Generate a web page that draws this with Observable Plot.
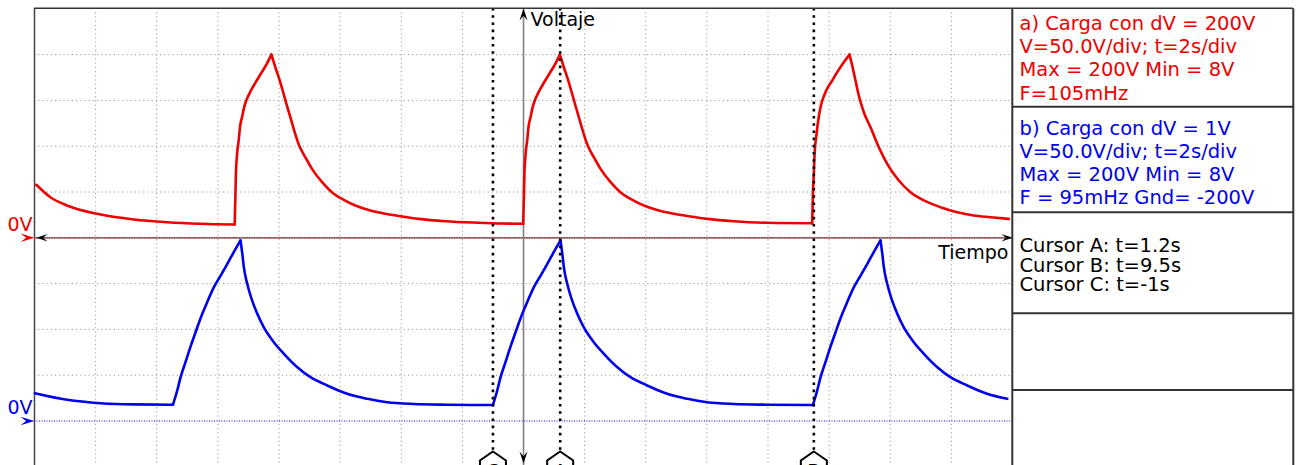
<!DOCTYPE html>
<html><head><meta charset="utf-8">
<script src="https://cdn.jsdelivr.net/npm/d3@7"></script>
<script src="https://cdn.jsdelivr.net/npm/@observablehq/plot@0.6"></script>
<style>html,body{margin:0;padding:0;background:#fff}svg{display:block}</style>
</head><body><div id="chart"></div>
<script>
// ---- data (time in s, voltage in V) ----
const redT = [-15.94,-15.48,-14.94,-13.95,-12.75,-11.66,-10.57,-9.45,
  -9.43,-9.41,-9.37,-9.32,-9.27,-9.21,-9.14,-9.07,-8.96,-8.83,-8.66,-8.56,-8.39,-8.25,
  -8.12,-8.01,-7.88,-7.74,-7.63,-7.34,-7.14,-6.92,-6.59,-6.27,-5.88,-5.50,-5.01,-4.52,-3.98,-3.43,-2.56,-1.47,-0.75,-0.01,
  0.01,0.03,0.07,0.12,0.17,0.23,0.30,0.37,0.48,0.61,0.78,0.88,1.05,1.19,
  1.32,1.43,1.56,1.70,1.81,2.10,2.30,2.52,2.85,3.17,3.56,3.94,4.43,4.92,5.46,6.01,6.88,7.97,9.446,
  9.466,9.499,9.531,9.577,9.643,9.718,9.881,10.101,10.264,10.48,10.667,
  10.755,10.863,10.971,11.135,11.354,11.626,11.90,12.28,12.663,13.154,13.645,14.191,14.734,15.28,15.879];
const redV = [57.9,44.3,35.3,26.2,20.0,17.0,15.3,14.5,
  40.7,69.9,91.7,106.2,122.6,131.7,142.6,149.9,158.0,166.0,175.5,181.0,190.5,200,
  186.2,175.3,160.8,144.4,131.7,100.8,88.0,75.3,60.7,49.8,41.5,35.3,29.8,26.2,23.3,20.7,18.1,16.4,15.6,15.3,
  40.7,69.9,91.7,106.2,122.6,131.7,142.6,149.9,158.0,166.0,175.5,181.0,190.5,200,
  186.2,175.3,160.8,144.4,131.7,100.8,88.0,75.3,60.7,49.8,41.5,35.3,29.8,26.2,23.3,20.7,18.1,16.4,15.9,
  44.3,69.9,95.3,109.8,128.1,142.6,159.0,171.7,180.8,191.7,200,
  188.1,171.7,155.3,137.1,120.7,98.9,80.8,62.6,49.8,40.0,33.4,27.9,24.3,22.5,20.7];

const blueT = [-15.99,-14.93,-13.84,-12.75,-11.47,
  -11.33,-11.22,-11.06,-10.90,-10.73,-10.51,-10.35,-10.13,-9.91,-9.69,-9.48,-9.26,
  -9.20,-9.15,-9.04,-8.88,-8.71,-8.50,-8.17,-7.84,-7.40,-6.97,-6.42,-5.77,-5.11,-4.46,-3.59,-2.50,-1.00,
  -0.86,-0.75,-0.59,-0.43,-0.26,-0.04,0.12,0.34,0.56,0.78,0.99,1.21,
  1.27,1.32,1.43,1.59,1.76,1.97,2.30,2.63,3.07,3.50,4.05,4.70,5.36,6.01,6.88,7.97,9.47,
  9.61,9.72,9.88,10.04,10.21,10.43,10.59,10.81,11.03,11.25,11.46,11.68,
  11.74,11.79,11.90,12.06,12.23,12.44,12.77,13.10,13.54,13.97,14.52,15.17,15.83];
const blueV = [30.3,23.1,19.4,18.1,17.8,
  33.3,47.8,64.2,80.6,96.9,117.0,129.7,146.1,158.8,171.6,184.3,197.1,
  182.5,167.9,149.8,131.6,117.0,102.4,86.0,73.4,58.7,47.8,38.8,29.7,24.2,20.5,18.6,17.8,17.4,
  33.3,47.8,64.2,80.6,96.9,117.0,129.7,146.1,158.8,171.6,184.3,197.1,
  182.5,167.9,149.8,131.6,117.0,102.4,86.0,73.4,58.7,47.8,38.8,29.7,24.2,20.5,18.6,17.8,17.4,
  33.3,47.8,64.2,80.6,96.9,117.0,129.7,146.1,158.8,171.6,184.3,197.1,
  182.5,167.9,149.8,131.6,117.0,102.4,86.0,73.4,58.7,47.8,38.8,29.7,24.2];
const blueGnd = -200;

const cursorNames = ["A", "B", "C"];
const cursorT = [1.2, 9.5, -1];

const gridT = [-14,-12,-10,-8,-6,-4,-2,0,2,4,6,8,10,12,14];
const gridV = [200,150,100,50,-50,-100,-150];

const legendA = ["a) Carga con dV = 200V","V=50.0V/div; t=2s/div","Max = 200V Min = 8V","F=105mHz"];
const legendB = ["b) Carga con dV = 1V","V=50.0V/div; t=2s/div","Max = 200V Min = 8V","F = 95mHz Gnd= -200V"];
const legendC = ["Cursor A: t=1.2s","Cursor B: t=9.5s","Cursor C: t=-1s"];
const yLabel = "Voltaje", xLabel = "Tiempo", zeroLabel = "0V";

// ---- build ----
const RED = "#ee0000", BLUE = "#0000ee";

// split a trace into monotone pieces (rise / decay) so corners stay sharp
function pieces(T, V, offset) {
  const out = [];
  let seg = 0, dir = 0;
  T.forEach((t, i) => {
    if (i > 0) {
      const d = Math.sign(V[i] - V[i - 1]);
      if (d !== 0 && dir !== 0 && d !== dir) {
        seg++;
        out.push({t: T[i - 1], v: V[i - 1] + offset, seg});
      }
      if (d !== 0) dir = d;
    }
    out.push({t, v: V[i] + offset, seg});
  });
  return out;
}
const red = pieces(redT, redV, 0);
const blue = pieces(blueT, blueV, blueGnd);
const cursors = cursorT.map((t, i) => ({t, name: cursorNames[i]}));

function arrow(dir, L, W) {
  const pts = [[0,0],[-L,-W],[-L*0.6,0],[-L,W]];
  const r = {right:[1,0], left:[-1,0], up:[0,-1], down:[0,1]}[dir];
  return {draw(ctx) {
    pts.forEach(([x,y], i) => {
      const px = x*r[0] - y*r[1], py = x*r[1] + y*r[0];
      i ? ctx.lineTo(px, py) : ctx.moveTo(px, py);
    });
    ctx.closePath();
  }};
}
const plate = {draw(ctx) {
  ctx.moveTo(0,-14); ctx.lineTo(13,-5); ctx.lineTo(13,14); ctx.lineTo(-13,14); ctx.lineTo(-13,-5); ctx.closePath();
}};

const chart = Plot.plot({
  width: 1299, height: 465,
  marginLeft: 34, marginRight: 287, marginTop: 8, marginBottom: 0,
  x: {domain: [-16, 16], range: [34, 1012], axis: null},
  y: {domain: [-250, 250], range: [466.3, 8.3], axis: null},
  style: {fontFamily: "DejaVu Sans", background: "white"},
  marks: [
    Plot.ruleX(gridT, {x: d => d, stroke: "#999", strokeWidth: 1, strokeDasharray: "1.2,3"}),
    Plot.ruleY(gridV, {y: d => d, stroke: "#999", strokeWidth: 1, strokeDasharray: "1.2,3"}),
    Plot.ruleX([-16], {x: d => d, stroke: "#444", strokeWidth: 1.5}),
    Plot.ruleY([0], {y: d => d, stroke: "#808080", strokeWidth: 1.8}),
    Plot.ruleY([0], {y: d => d, stroke: RED, strokeWidth: 1, strokeDasharray: "1,1.5"}),
    Plot.ruleY([blueGnd], {y: d => d, stroke: BLUE, strokeWidth: 1, strokeDasharray: "1,1.5"}),
    Plot.ruleX([0], {x: d => d, stroke: "#808080", strokeWidth: 1.6}),
    Plot.line(red, {x: "t", y: "v", z: "seg", curve: "monotone-x", stroke: RED, strokeWidth: 2.6}),
    Plot.line(blue, {x: "t", y: "v", z: "seg", curve: "monotone-x", stroke: BLUE, strokeWidth: 2.6}),
    Plot.ruleX(cursors, {x: "t", stroke: "black", strokeWidth: 2.6, strokeDasharray: "2.6,4.6"}),
    // arrowheads
    Plot.dot([0], {x: d => d, frameAnchor: "top", symbol: arrow("up", 12, 4), fill: "black", stroke: "none"}),
    Plot.dot([0], {x: d => d, frameAnchor: "bottom", dy: -2, symbol: arrow("down", 12, 4), fill: "black", stroke: "none"}),
    Plot.dot([0], {y: d => d, frameAnchor: "left", dx: 2, symbol: arrow("left", 11, 3.7), fill: "black", stroke: "none"}),
    Plot.dot([0], {y: d => d, frameAnchor: "right", symbol: arrow("right", 11, 3.7), fill: "black", stroke: "none"}),
    Plot.dot([0], {y: d => d, frameAnchor: "left", symbol: arrow("right", 14, 4.2), fill: RED, stroke: "none"}),
    Plot.dot([blueGnd], {y: d => d, frameAnchor: "left", symbol: arrow("right", 14, 4.2), fill: BLUE, stroke: "none"}),
    // cursor tags (cut by the bottom edge, as in the original)
    Plot.dot(cursors, {x: "t", frameAnchor: "bottom", symbol: plate, fill: "white", stroke: "black", strokeWidth: 2}),
    Plot.text(cursors, {x: "t", text: "name", frameAnchor: "bottom", dy: 12, lineAnchor: "bottom", fontSize: 19, fill: "black"}),
    // labels
    Plot.text([yLabel], {x: () => 0, text: d => d, frameAnchor: "top", dx: 7, dy: 17, textAnchor: "start", lineAnchor: "bottom", fontSize: 19, fill: "black"}),
    Plot.text([xLabel], {y: () => 0, text: d => d, frameAnchor: "right", dx: -4, dy: 21, textAnchor: "end", lineAnchor: "bottom", fontSize: 19, fill: "black"}),
    Plot.text([zeroLabel], {y: () => 0, text: d => d, frameAnchor: "left", dx: -27, dy: -7, textAnchor: "start", lineAnchor: "bottom", fontSize: 19, fill: RED}),
    Plot.text([zeroLabel], {y: () => blueGnd, text: d => d, frameAnchor: "left", dx: -27, dy: -7, textAnchor: "start", lineAnchor: "bottom", fontSize: 19, fill: BLUE}),
    // legend box texts
    Plot.text([legendA.join("\n")], {text: d => d, frameAnchor: "top-right", dx: 7, dy: 4.8, textAnchor: "start", lineAnchor: "top", lineHeight: 23.3/19.5, fontSize: 19.5, fill: RED}),
    Plot.text([legendB.join("\n")], {text: d => d, frameAnchor: "top-right", dx: 7, dy: 109.6, textAnchor: "start", lineAnchor: "top", lineHeight: 23.1/19.5, fontSize: 19.5, fill: BLUE}),
    Plot.text([legendC.join("\n")], {text: d => d, frameAnchor: "top-right", dx: 7, dy: 230, textAnchor: "start", lineAnchor: "top", lineHeight: 19.5/19.5, fontSize: 19.5, fill: "black"})
  ]
});

// box / frame lines around the legend
const svg = d3.select(chart);
const g = svg.append("g").attr("stroke", "#333").attr("fill", "none");
g.append("line").attr("x1", 34).attr("x2", 1293).attr("y1", 8.3).attr("y2", 8.3).attr("stroke-width", 1.6);
g.append("line").attr("x1", 1012.3).attr("x2", 1012.3).attr("y1", 8.3).attr("y2", 470).attr("stroke-width", 2);
g.append("line").attr("x1", 1293.3).attr("x2", 1293.3).attr("y1", 8.3).attr("y2", 470).attr("stroke-width", 2);
[106.7, 212.3, 313.3, 390].forEach(y =>
  g.append("line").attr("x1", 1012).attr("x2", 1294).attr("y1", y).attr("y2", y).attr("stroke-width", 2));

document.getElementById("chart").appendChild(chart);
</script>
</body></html>
